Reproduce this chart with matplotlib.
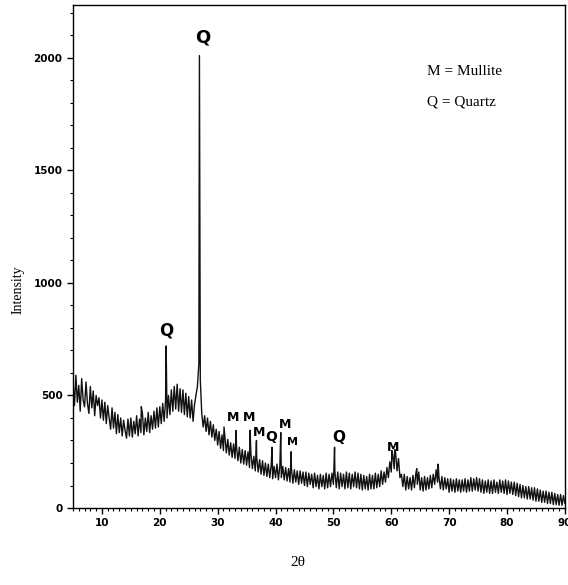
import numpy as np
import matplotlib.pyplot as plt
from matplotlib.ticker import MultipleLocator

# 衍射图谱 (2θ 步长 0.25, 每行 5°)
two_theta = np.arange(5.0, 90.001, 0.25)
counts = [570, 455, 590, 470, 545, 430, 575, 480, 450, 560, 465, 420, 540, 445, 520, 410, 500, 455, 490, 400,
          480, 390, 470, 375, 455, 400, 350, 445, 355, 425, 330, 415, 335, 400, 320, 390, 345, 310, 395, 320,
          400, 315, 385, 330, 410, 320, 395, 335, 420, 325, 400, 340, 425, 335, 410, 350, 430, 355, 445, 360,
          450, 375, 465, 385, 480, 400, 500, 415, 525, 430, 540, 440, 550, 430, 530, 425, 525, 415, 510, 405,
          495, 400, 480, 385, 460, 500, 540, 640, 570, 420, 360, 410, 340, 400, 325, 385, 315, 370, 300, 350,
          280, 340, 265, 325, 255, 315, 245, 305, 235, 290, 225, 285, 220, 275, 210, 270, 200, 260, 195, 255,
          190, 250, 180, 240, 175, 230, 165, 225, 160, 215, 150, 210, 145, 200, 140, 195, 135, 190, 130, 185,
          135, 195, 125, 190, 135, 185, 125, 180, 120, 175, 115, 175, 110, 170, 115, 165, 105, 165, 110, 160,
          100, 160, 95, 155, 105, 150, 90, 155, 95, 145, 85, 150, 95, 145, 85, 155, 90, 150, 95, 155,
          105, 165, 90, 160, 85, 155, 95, 150, 85, 160, 90, 155, 85, 150, 95, 160, 90, 155, 85, 150,
          80, 145, 85, 140, 80, 150, 85, 145, 85, 155, 90, 150, 95, 165, 105, 160, 115, 180, 135, 205,
          160, 235, 175, 245, 165, 220, 135, 150, 95, 150, 80, 140, 85, 135, 80, 145, 90, 155, 105, 160,
          80, 135, 75, 140, 80, 135, 85, 145, 90, 150, 105, 170, 115, 135, 85, 140, 80, 135, 85, 130,
          70, 130, 75, 125, 70, 130, 75, 125, 70, 125, 75, 130, 70, 125, 75, 135, 75, 130, 80, 135,
          75, 130, 70, 125, 65, 120, 70, 125, 65, 120, 65, 125, 70, 115, 65, 125, 70, 120, 65, 125,
          60, 120, 65, 115, 60, 115, 55, 110, 50, 105, 45, 100, 45, 95, 40, 95, 40, 90, 35, 90,
          30, 85, 30, 80, 25, 75, 25, 75, 20, 70, 20, 70, 15, 65, 15, 60, 12, 60, 12, 55,
          20]

# 衍射峰位置与强度
peak_pos = [16.8, 21.1, 26.85, 31.1, 33.2, 35.6, 36.7, 39.4,
            40.9, 42.7, 50.2, 60.1, 60.6, 64.4, 68.1]
peak_int = [450, 720, 2010, 360, 345, 345, 300, 270,
            335, 250, 270, 255, 260, 175, 195]

# 峰标记
marks = ['Q', 'Q', 'M', 'M', 'M', 'Q', 'M', 'M', 'Q', 'M']
mark_x = [27.4, 21.2, 32.6, 35.4, 37.1, 39.3, 41.6, 42.9, 51.0, 60.3]
mark_y = [2090, 790, 400, 400, 335, 315, 370, 295, 315, 270]
mark_size = [13, 12, 9, 9, 9, 10, 9, 8, 11, 9]

x = np.concatenate([two_theta, peak_pos])
y = np.concatenate([counts, peak_int])
order = np.argsort(x)

fig = plt.figure(figsize=(5.68, 5.85), dpi=100)
ax = fig.add_axes([0.1285, 0.1316, 0.866, 0.86])
ax.plot(x[order], y[order], color='#111111', lw=1.0)

ax.set_xlim(5, 90)
ax.set_ylim(0, 2235)
ax.xaxis.set_major_locator(MultipleLocator(10))
ax.xaxis.set_minor_locator(MultipleLocator(1))
ax.yaxis.set_major_locator(MultipleLocator(500))
ax.yaxis.set_minor_locator(MultipleLocator(100))
ax.tick_params(which='major', length=4, width=1, labelsize=7.5)
ax.tick_params(which='minor', length=2.5, width=0.8)
for lab in ax.get_xticklabels() + ax.get_yticklabels():
    lab.set_fontweight('bold')
for s in ax.spines.values():
    s.set_linewidth(1)

for t, mx, my, fs in zip(marks, mark_x, mark_y, mark_size):
    ax.text(mx, my, t, fontsize=fs, fontweight='bold', ha='center', va='center')

ax.text(0.72, 0.867, 'M = Mullite', transform=ax.transAxes, fontsize=11,
        family='Liberation Serif', va='center')
ax.text(0.72, 0.807, 'Q = Quartz', transform=ax.transAxes, fontsize=11,
        family='Liberation Serif', va='center')

fig.text(0.032, 0.505, 'Intensity', rotation=90, fontsize=10,
         family='Liberation Serif', ha='center', va='center')
fig.text(0.525, 0.038, '2θ', fontsize=11, family='Liberation Serif',
         ha='center', va='center')

fig.savefig('out.png', dpi=100)
